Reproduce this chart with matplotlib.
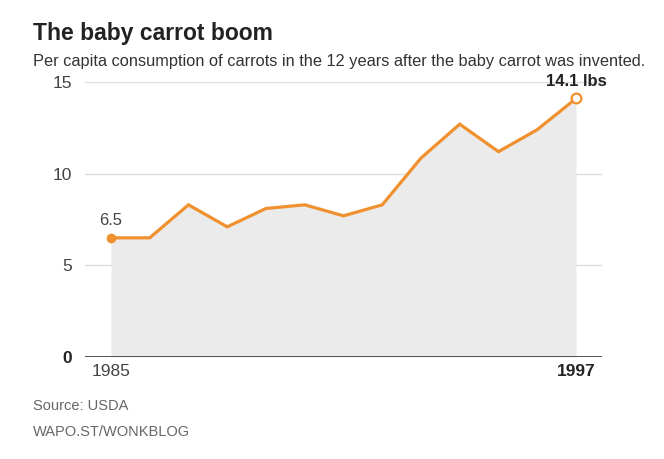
import matplotlib.pyplot as plt

years = [1985, 1986, 1987, 1988, 1989, 1990, 1991, 1992, 1993, 1994, 1995, 1996, 1997]
lbs = [6.5, 6.5, 8.3, 7.1, 8.1, 8.3, 7.7, 8.3, 10.85, 12.7, 11.2, 12.4, 14.1]
yticks = [0, 5, 10, 15]

orange = '#f0902e'
fnt = ['Liberation Sans', 'DejaVu Sans']
plt.rcParams['font.family'] = fnt

fig = plt.figure(figsize=(6.64, 4.59), dpi=100)
ax = fig.add_axes([0.128, 0.2222, 0.7786, 0.5992])

for t in yticks[1:]:
    ax.axhline(t, color='#dddddd', lw=1, zorder=0)
ax.axhline(0, color='#444444', lw=1.3, zorder=4)

ax.fill_between(years, lbs, 0, color='#ebebeb', lw=0, zorder=1)
ax.plot(years, lbs, color=orange, lw=2.3, zorder=3, solid_joinstyle='miter')
ax.plot(years[0], lbs[0], 'o', color=orange, ms=6, zorder=5)
ax.plot(years[-1], lbs[-1], 'o', mfc='white', mec=orange, mew=1.6, ms=7, zorder=5)

ax.text(years[0], lbs[0] + 0.55, '6.5', ha='center', va='bottom', fontsize=12, color='#444444')
ax.text(years[-1], 15, '14.1 lbs', ha='center', va='center', fontsize=12, fontweight='bold', color='#222222')

ax.set_xlim(1984.33, 1997.67)
ax.set_ylim(0, 15)
for s in ax.spines.values():
    s.set_visible(False)
ax.set_yticks(yticks)
ax.set_yticklabels([str(t) for t in yticks])
ax.set_xticks([years[0], years[-1]])
ax.set_xticklabels([str(years[0]), str(years[-1])])
ax.tick_params(length=0, labelsize=12.5, labelcolor='#444444')
ax.tick_params(axis='y', pad=9)
ax.tick_params(axis='x', pad=5)
ax.get_yticklabels()[0].set_fontweight('bold')
ax.get_yticklabels()[0].set_color('#222222')
ax.get_xticklabels()[1].set_fontweight('bold')
ax.get_xticklabels()[1].set_color('#222222')

fig.text(0.05, 0.928, 'The baby carrot boom', fontsize=16.5, fontweight='bold', color='#222222', va='center')
fig.text(0.05, 0.865, 'Per capita consumption of carrots in the 12 years after the baby carrot was invented.',
         fontsize=11.8, color='#333333', va='center')
fig.text(0.05, 0.115, 'Source: USDA', fontsize=10.5, color='#666666', va='center')
fig.text(0.05, 0.058, 'WAPO.ST/WONKBLOG', fontsize=10.5, color='#666666', va='center')

fig.savefig('out.png', dpi=100)
